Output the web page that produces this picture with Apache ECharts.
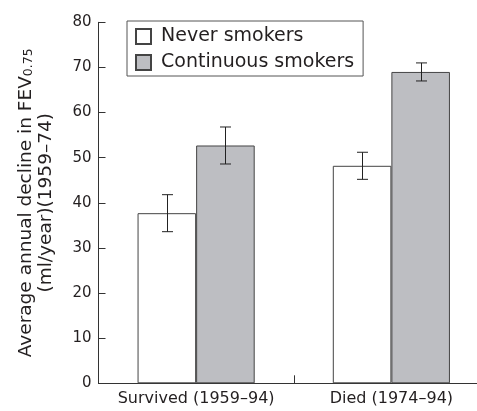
<!DOCTYPE html>
<html>
<head>
<meta charset="utf-8">
<script src="https://cdn.jsdelivr.net/npm/echarts@6/dist/echarts.min.js"></script>
<style>
html,body{margin:0;padding:0;background:#fff;overflow:hidden;}
#wrap{width:477px;height:411px;overflow:hidden;}
#chart{width:489px;height:411px;}
</style>
</head>
<body>
<div id="wrap"><div id="chart"></div></div>
<script>
const categories = ['Survived (1959\u201394)', 'Died (1974\u201394)'];
const neverSmokers = [37.7, 48.2];
const neverErr = [4.1, 3.0];
const continuousSmokers = [52.7, 69.0];
const continuousErr = [4.1, 2.0];
const seriesNames = ['Never smokers', 'Continuous smokers'];
const yTicks = { min: 0, max: 80, interval: 10 };

const FONT = 'DejaVu Sans';
const TXT = '#231f20';

function errData(vals, errs, sign) {
  return vals.map((v, i) => [i, v - errs[i], v + errs[i], sign]);
}

function renderErr(params, api) {
  const ci = api.value(0);
  const lo = api.value(1);
  const hi = api.value(2);
  const sign = api.value(3);
  const band = api.size([1, 0])[0];
  const pHi = api.coord([ci, hi]);
  const pLo = api.coord([ci, lo]);
  const cx = Math.round(pHi[0] + sign * band * 0.15) + 0.5;
  const cap = 5.5;
  const st = { stroke: '#222', lineWidth: 1 };
  return {
    type: 'group',
    children: [
      { type: 'line', shape: { x1: cx, y1: pHi[1], x2: cx, y2: pLo[1] }, style: st },
      { type: 'line', shape: { x1: cx - cap, y1: pHi[1], x2: cx + cap, y2: pHi[1] }, style: st },
      { type: 'line', shape: { x1: cx - cap, y1: pLo[1], x2: cx + cap, y2: pLo[1] }, style: st }
    ]
  };
}

const chart = echarts.init(document.getElementById('chart'), null, { renderer: 'canvas' });
chart.setOption({
  animation: false,
  backgroundColor: '#fff',
  textStyle: { fontFamily: FONT, color: TXT },
  grid: { left: 98.5, right: 0, top: 22.3, bottom: 27.7, containLabel: false },
  legend: {
    data: seriesNames,
    orient: 'vertical',
    left: 127,
    top: 21,
    padding: [6, 9, 4, 8],
    itemGap: 7,
    itemWidth: 15,
    itemHeight: 15,
    icon: 'rect',
    borderColor: '#555',
    borderWidth: 1,
    backgroundColor: '#fff',
    textStyle: { fontFamily: FONT, fontSize: 19, color: TXT, padding: [0, 0, 0, 5] }
  },
  xAxis: {
    type: 'category',
    data: categories,
    axisLine: { show: true, lineStyle: { color: '#333', width: 1 } },
    axisTick: { show: true, inside: true, length: 8, interval: 0, alignWithLabel: false, lineStyle: { color: '#333' } },
    axisLabel: { fontFamily: FONT, fontSize: 16, color: TXT, margin: 8, interval: 0 },
    splitLine: { show: false }
  },
  yAxis: {
    type: 'value',
    min: yTicks.min,
    max: yTicks.max,
    interval: yTicks.interval,
    name: '{a|Average annual decline in FEV}{s|0.75}\n{b|(ml/year)(1959\u201374)}',
    nameLocation: 'middle',
    nameRotate: 90,
    nameGap: 41,
    nameTextStyle: {
      fontFamily: FONT,
      color: TXT,
      rich: {
        a: { fontFamily: FONT, fontSize: 18.5, color: TXT, lineHeight: 22, verticalAlign: 'bottom' },
        s: { fontFamily: FONT, fontSize: 12.5, color: TXT, lineHeight: 12, verticalAlign: 'bottom' },
        b: { fontFamily: FONT, fontSize: 18.5, color: TXT, lineHeight: 22 }
      }
    },
    axisLine: { show: true, lineStyle: { color: '#333', width: 1 } },
    axisTick: { show: true, inside: true, length: 7, lineStyle: { color: '#333' } },
    axisLabel: { fontFamily: FONT, fontSize: 15, color: TXT, margin: 7 },
    splitLine: { show: false }
  },
  series: [
    {
      name: seriesNames[0],
      type: 'bar',
      data: neverSmokers,
      barWidth: '30%',
      barGap: '0%',
      itemStyle: { color: '#ffffff', borderColor: '#444', borderWidth: 1 }
    },
    {
      name: seriesNames[1],
      type: 'bar',
      data: continuousSmokers,
      barWidth: '30%',
      barGap: '0%',
      itemStyle: { color: '#bdbec2', borderColor: '#444', borderWidth: 1 }
    },
    {
      type: 'custom',
      name: 'errNever',
      data: errData(neverSmokers, neverErr, -1),
      renderItem: renderErr,
      z: 5
    },
    {
      type: 'custom',
      name: 'errCont',
      data: errData(continuousSmokers, continuousErr, 1),
      renderItem: renderErr,
      z: 5
    }
  ]
});
</script>
</body>
</html>
